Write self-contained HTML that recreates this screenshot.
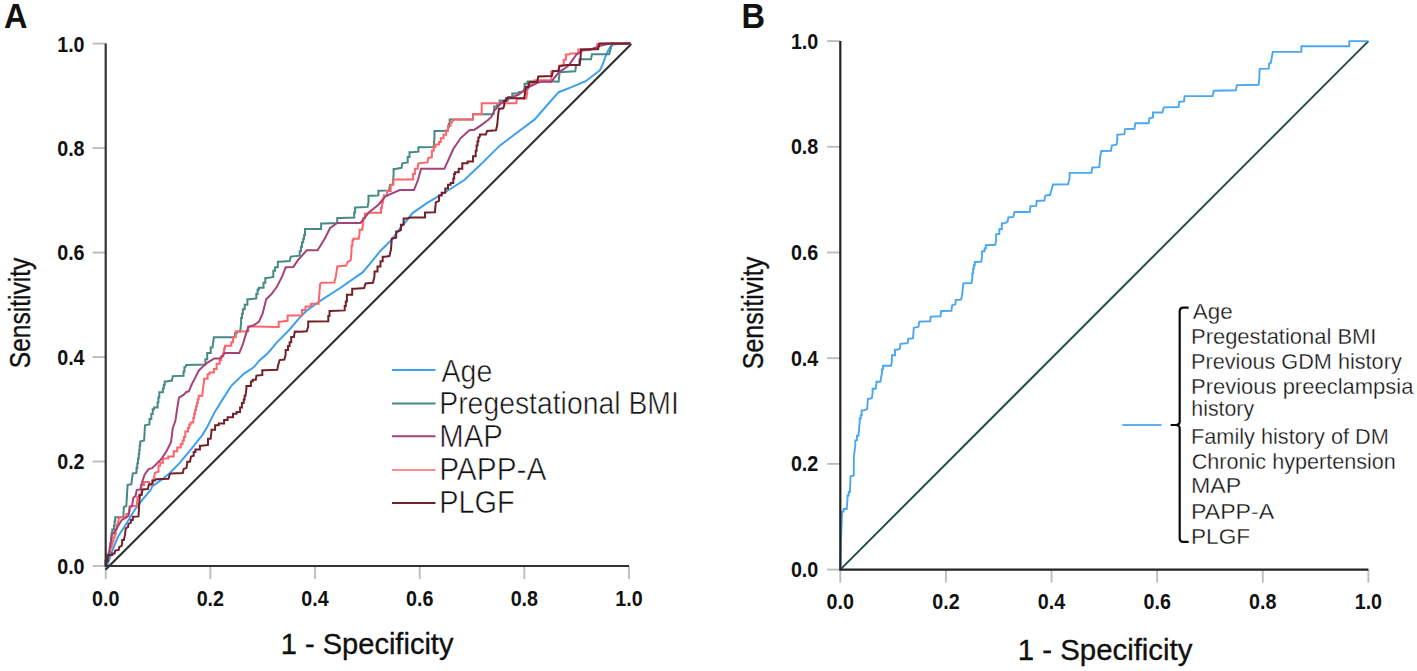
<!DOCTYPE html>
<html><head><meta charset="utf-8"><title>ROC curves</title>
<style>html,body{margin:0;padding:0;background:#fff;}body{width:1417px;height:671px;overflow:hidden;font-family:"Liberation Sans",sans-serif;}svg{display:block;}</style>
</head><body>
<svg width="1417" height="671" viewBox="0 0 1417 671" font-family="Liberation Sans, sans-serif" fill="#111111"><rect x="0" y="0" width="1417" height="671" fill="#ffffff"/>
<text x="4.00" y="27.60" font-size="35.00" font-weight="bold" text-anchor="start" textLength="23.50" lengthAdjust="spacingAndGlyphs" >A</text>
<text x="741.60" y="27.50" font-size="35.00" font-weight="bold" text-anchor="start" textLength="23.50" lengthAdjust="spacingAndGlyphs" >B</text>
<line x1="92.6" y1="566.00" x2="105.70" y2="566.00" stroke="#bdbdbd" stroke-width="1.9"/>
<line x1="105.70" y1="566.00" x2="105.70" y2="579" stroke="#bdbdbd" stroke-width="1.9"/>
<text x="84.60" y="573.90" font-size="22.00" font-weight="bold" text-anchor="end" textLength="27.40" lengthAdjust="spacingAndGlyphs" >0.0</text>
<text x="105.70" y="605.70" font-size="22.00" font-weight="bold" text-anchor="middle" textLength="27.40" lengthAdjust="spacingAndGlyphs" >0.0</text>
<line x1="92.6" y1="461.52" x2="105.70" y2="461.52" stroke="#bdbdbd" stroke-width="1.9"/>
<line x1="210.36" y1="566.00" x2="210.36" y2="579" stroke="#bdbdbd" stroke-width="1.9"/>
<text x="84.60" y="469.42" font-size="22.00" font-weight="bold" text-anchor="end" textLength="27.40" lengthAdjust="spacingAndGlyphs" >0.2</text>
<text x="210.36" y="605.70" font-size="22.00" font-weight="bold" text-anchor="middle" textLength="27.40" lengthAdjust="spacingAndGlyphs" >0.2</text>
<line x1="92.6" y1="357.04" x2="105.70" y2="357.04" stroke="#bdbdbd" stroke-width="1.9"/>
<line x1="315.02" y1="566.00" x2="315.02" y2="579" stroke="#bdbdbd" stroke-width="1.9"/>
<text x="84.60" y="364.94" font-size="22.00" font-weight="bold" text-anchor="end" textLength="27.40" lengthAdjust="spacingAndGlyphs" >0.4</text>
<text x="315.02" y="605.70" font-size="22.00" font-weight="bold" text-anchor="middle" textLength="27.40" lengthAdjust="spacingAndGlyphs" >0.4</text>
<line x1="92.6" y1="252.56" x2="105.70" y2="252.56" stroke="#bdbdbd" stroke-width="1.9"/>
<line x1="419.68" y1="566.00" x2="419.68" y2="579" stroke="#bdbdbd" stroke-width="1.9"/>
<text x="84.60" y="260.46" font-size="22.00" font-weight="bold" text-anchor="end" textLength="27.40" lengthAdjust="spacingAndGlyphs" >0.6</text>
<text x="419.68" y="605.70" font-size="22.00" font-weight="bold" text-anchor="middle" textLength="27.40" lengthAdjust="spacingAndGlyphs" >0.6</text>
<line x1="92.6" y1="148.08" x2="105.70" y2="148.08" stroke="#bdbdbd" stroke-width="1.9"/>
<line x1="524.34" y1="566.00" x2="524.34" y2="579" stroke="#bdbdbd" stroke-width="1.9"/>
<text x="84.60" y="155.98" font-size="22.00" font-weight="bold" text-anchor="end" textLength="27.40" lengthAdjust="spacingAndGlyphs" >0.8</text>
<text x="524.34" y="605.70" font-size="22.00" font-weight="bold" text-anchor="middle" textLength="27.40" lengthAdjust="spacingAndGlyphs" >0.8</text>
<line x1="92.6" y1="43.60" x2="105.70" y2="43.60" stroke="#bdbdbd" stroke-width="1.9"/>
<line x1="629.00" y1="566.00" x2="629.00" y2="579" stroke="#bdbdbd" stroke-width="1.9"/>
<text x="84.60" y="51.50" font-size="22.00" font-weight="bold" text-anchor="end" textLength="27.40" lengthAdjust="spacingAndGlyphs" >1.0</text>
<text x="629.00" y="605.70" font-size="22.00" font-weight="bold" text-anchor="middle" textLength="27.40" lengthAdjust="spacingAndGlyphs" >1.0</text>
<line x1="827.1" y1="569.60" x2="840.30" y2="569.60" stroke="#bdbdbd" stroke-width="1.9"/>
<line x1="840.30" y1="569.60" x2="840.30" y2="582.6" stroke="#bdbdbd" stroke-width="1.9"/>
<text x="818.30" y="577.10" font-size="22.00" font-weight="bold" text-anchor="end" textLength="27.40" lengthAdjust="spacingAndGlyphs" >0.0</text>
<text x="840.30" y="608.90" font-size="22.00" font-weight="bold" text-anchor="middle" textLength="27.40" lengthAdjust="spacingAndGlyphs" >0.0</text>
<line x1="827.1" y1="463.90" x2="840.30" y2="463.90" stroke="#bdbdbd" stroke-width="1.9"/>
<line x1="945.92" y1="569.60" x2="945.92" y2="582.6" stroke="#bdbdbd" stroke-width="1.9"/>
<text x="818.30" y="471.40" font-size="22.00" font-weight="bold" text-anchor="end" textLength="27.40" lengthAdjust="spacingAndGlyphs" >0.2</text>
<text x="945.92" y="608.90" font-size="22.00" font-weight="bold" text-anchor="middle" textLength="27.40" lengthAdjust="spacingAndGlyphs" >0.2</text>
<line x1="827.1" y1="358.20" x2="840.30" y2="358.20" stroke="#bdbdbd" stroke-width="1.9"/>
<line x1="1051.54" y1="569.60" x2="1051.54" y2="582.6" stroke="#bdbdbd" stroke-width="1.9"/>
<text x="818.30" y="365.70" font-size="22.00" font-weight="bold" text-anchor="end" textLength="27.40" lengthAdjust="spacingAndGlyphs" >0.4</text>
<text x="1051.54" y="608.90" font-size="22.00" font-weight="bold" text-anchor="middle" textLength="27.40" lengthAdjust="spacingAndGlyphs" >0.4</text>
<line x1="827.1" y1="252.50" x2="840.30" y2="252.50" stroke="#bdbdbd" stroke-width="1.9"/>
<line x1="1157.16" y1="569.60" x2="1157.16" y2="582.6" stroke="#bdbdbd" stroke-width="1.9"/>
<text x="818.30" y="260.00" font-size="22.00" font-weight="bold" text-anchor="end" textLength="27.40" lengthAdjust="spacingAndGlyphs" >0.6</text>
<text x="1157.16" y="608.90" font-size="22.00" font-weight="bold" text-anchor="middle" textLength="27.40" lengthAdjust="spacingAndGlyphs" >0.6</text>
<line x1="827.1" y1="146.80" x2="840.30" y2="146.80" stroke="#bdbdbd" stroke-width="1.9"/>
<line x1="1262.78" y1="569.60" x2="1262.78" y2="582.6" stroke="#bdbdbd" stroke-width="1.9"/>
<text x="818.30" y="154.30" font-size="22.00" font-weight="bold" text-anchor="end" textLength="27.40" lengthAdjust="spacingAndGlyphs" >0.8</text>
<text x="1262.78" y="608.90" font-size="22.00" font-weight="bold" text-anchor="middle" textLength="27.40" lengthAdjust="spacingAndGlyphs" >0.8</text>
<line x1="827.1" y1="41.10" x2="840.30" y2="41.10" stroke="#bdbdbd" stroke-width="1.9"/>
<line x1="1368.40" y1="569.60" x2="1368.40" y2="582.6" stroke="#bdbdbd" stroke-width="1.9"/>
<text x="818.30" y="48.60" font-size="22.00" font-weight="bold" text-anchor="end" textLength="27.40" lengthAdjust="spacingAndGlyphs" >1.0</text>
<text x="1368.40" y="608.90" font-size="22.00" font-weight="bold" text-anchor="middle" textLength="27.40" lengthAdjust="spacingAndGlyphs" >1.0</text>
<text x="280.79" y="653.70" font-size="29.60" font-weight="normal" textLength="172.67" lengthAdjust="spacingAndGlyphs" stroke="#111" stroke-width="0.35">1 - Specificity</text>
<text x="1017.76" y="659.60" font-size="30.20" font-weight="normal" textLength="174.70" lengthAdjust="spacingAndGlyphs" stroke="#111" stroke-width="0.35">1 - Specificity</text>
<text x="-1.12" y="0" font-size="29.60" font-weight="normal" textLength="110.56" lengthAdjust="spacingAndGlyphs" transform="translate(30.20,367.10) rotate(-90)" stroke="#111" stroke-width="0.35">Sensitivity</text>
<text x="-1.13" y="0" font-size="30.20" font-weight="normal" textLength="112.48" lengthAdjust="spacingAndGlyphs" transform="translate(763.00,368.10) rotate(-90)" stroke="#111" stroke-width="0.35">Sensitivity</text>
<line x1="105.5" y1="569.8" x2="631.3" y2="44.0" stroke="#333333" stroke-width="2.2"/>
<polyline points="105.7,565.5 107.7,564.4 112.3,550.5 118.1,536.5 126.3,523.7 135.6,508.6 143.7,498.1 150.7,490.0 152.2,486.4 162.6,478.9 170.1,472.7 179.0,463.7 188.0,453.0 195.1,444.1 202.3,435.1 207.6,426.2 214.8,411.9 223.7,397.6 231.3,385.8 243.8,373.8 253.7,367.3 259.3,360.7 268.0,353.0 276.9,342.3 289.4,329.7 300.1,317.2 307.3,310.1 319.4,301.4 340.2,288.0 362.6,272.4 371.5,261.9 380.1,251.2 390.9,240.5 400.0,228.3 405.4,222.0 412.5,213.1 426.8,203.2 444.7,192.5 464.4,180.0 480.1,165.1 492.7,152.6 500.0,145.4 513.2,135.5 534.7,119.4 542.9,110.0 558.6,92.2 572.2,86.9 585.7,81.2 600.0,70.2 602.9,63.8 606.5,54.0 610.1,46.8 613.7,44.2 630.5,43.6" fill="none" stroke="#3ea0ec" stroke-width="2.0" stroke-linejoin="miter" stroke-linecap="butt" />
<polyline points="105.7,565.5 106.5,564.4 106.5,560.5 107.7,560.5 107.7,556.7 108.8,556.7 108.8,552.8 110.0,552.8 110.0,547.8 110.6,547.8 110.6,542.9 111.2,542.9 111.2,538.0 111.7,538.0 111.7,533.0 112.3,533.0 112.3,529.5 114.0,529.5 114.0,525.4 114.6,525.4 114.6,521.4 115.2,521.4 115.2,517.3 115.8,517.3 123.3,517.0 123.9,506.9 126.3,506.3 127.6,484.9 131.3,484.2 132.8,473.5 136.5,473.0 136.5,468.1 137.3,468.1 137.3,463.3 138.0,463.3 138.0,458.4 138.8,458.4 138.8,454.1 139.2,454.1 139.2,449.9 139.7,449.9 139.7,445.6 140.2,445.6 140.2,441.4 140.6,441.4 144.1,440.5 145.0,425.3 149.5,424.4 149.5,419.0 151.3,419.0 151.3,414.1 152.7,414.1 152.7,409.2 154.0,409.2 154.0,407.4 157.6,407.4 157.6,402.5 158.4,402.5 158.4,397.6 159.3,397.6 159.3,392.2 162.9,392.2 162.9,388.6 163.8,388.6 163.8,385.0 164.7,385.0 164.7,381.5 166.5,381.5 171.9,380.6 172.8,376.1 183.5,375.7 183.5,371.4 184.4,371.4 184.4,367.2 185.3,367.2 186.2,365.0 205.4,364.5 205.4,359.3 207.2,359.3 207.2,353.0 210.7,353.0 210.7,347.6 212.5,347.6 213.9,337.3 234.9,337.3 234.9,333.3 236.7,333.3 236.7,331.5 240.2,331.5 241.1,322.6 241.1,318.1 242.0,318.1 242.0,313.7 242.9,313.7 242.9,309.2 244.7,309.2 244.7,304.7 247.4,304.7 247.4,299.3 249.2,299.3 256.3,298.4 256.3,293.9 257.6,293.9 257.6,289.5 259.0,289.5 259.0,287.7 263.5,287.7 263.5,282.8 265.3,282.8 265.3,277.9 267.1,277.9 273.3,277.0 273.3,270.7 275.1,270.7 275.1,267.2 277.8,267.2 277.8,261.8 279.6,261.8 289.8,261.0 290.7,256.6 299.7,255.7 299.7,251.2 300.9,251.2 300.9,246.8 302.0,246.8 302.0,242.3 303.2,242.3 303.2,238.7 304.1,238.7 304.1,235.1 305.0,235.1 305.0,228.9 307.7,228.9 321.1,228.9 321.1,223.5 323.8,223.5 337.2,223.0 337.2,218.1 340.8,218.1 354.2,217.6 354.2,212.5 355.1,212.5 355.1,207.4 356.0,207.4 367.6,206.9 368.5,202.0 368.5,195.8 373.0,195.8 378.4,195.4 378.4,190.8 380.1,190.8 389.1,190.4 390.0,185.0 392.7,184.7 393.6,174.3 393.6,168.9 395.3,168.9 401.5,167.8 402.4,163.3 407.7,162.4 407.7,157.1 409.5,157.1 409.5,152.2 412.2,152.2 418.4,151.7 418.4,147.2 420.2,147.2 433.7,146.9 434.5,136.5 434.5,131.1 436.3,131.1 448.0,130.8 448.0,127.4 448.9,127.4 448.9,124.0 449.7,124.0 449.7,119.5 451.5,119.5 473.0,119.5 473.0,114.2 493.6,114.2 494.2,108.9 494.2,106.5 497.2,106.5 497.2,104.1 499.6,104.1 499.6,100.6 507.9,100.6 507.9,97.0 512.3,97.0 512.3,93.5 516.8,93.5 518.7,92.2 523.4,91.6 524.6,87.4 524.6,83.8 527.0,83.8 527.6,81.5 538.3,81.2 555.5,81.5 558.6,81.7 559.6,72.3 575.3,71.3 575.8,67.1 575.8,65.0 579.5,65.0 579.5,59.3 581.5,59.3 591.0,59.3 592.0,54.3 609.2,54.3 610.1,50.9 611.4,45.9 611.4,44.2 613.7,44.2 630.5,43.6" fill="none" stroke="#458a85" stroke-width="2.0" stroke-linejoin="miter" stroke-linecap="butt" />
<polyline points="105.7,565.5 105.7,560.3 107.2,560.3 107.2,555.1 108.8,555.1 110.0,550.5 110.0,548.1 111.7,548.1 111.7,544.5 112.6,544.5 112.6,541.0 113.5,541.0 113.5,537.6 114.7,537.6 114.7,534.2 115.8,534.2 115.8,529.5 116.7,529.5 116.7,524.9 117.5,524.9 118.7,519.1 119.9,517.3 126.3,517.3 126.3,514.0 128.5,514.0 129.7,510.9 129.7,506.3 132.7,506.3 136.7,505.7 137.3,500.5 137.3,497.0 139.0,497.0 139.0,494.7 141.4,494.7 141.4,490.0 141.4,485.0 144.0,485.0 144.0,482.0 149.0,482.0 149.0,484.9 152.2,484.9 153.6,478.9 154.0,478.0 154.9,472.7 158.5,471.8 158.5,465.5 160.2,465.5 160.2,462.8 162.9,462.8 162.9,458.4 168.3,458.4 168.3,456.6 173.7,456.6 173.7,451.2 177.2,451.2 177.2,447.6 180.8,447.6 180.8,444.1 182.6,444.1 182.6,440.5 183.9,440.5 183.9,436.9 185.3,436.9 185.3,431.5 188.0,431.5 188.0,427.9 189.3,427.9 189.3,424.4 190.6,424.4 190.6,422.6 193.3,422.6 193.3,418.1 194.2,418.1 194.2,413.7 195.1,413.7 195.1,410.1 196.0,410.1 196.0,406.5 196.9,406.5 196.9,402.9 197.8,402.9 197.8,399.3 198.7,399.3 198.7,395.8 202.3,395.8 203.2,386.8 204.1,380.6 204.1,378.8 207.6,378.8 207.6,374.3 209.4,374.3 209.4,372.5 213.9,372.5 213.9,368.9 216.6,368.9 216.6,363.7 219.7,363.7 219.7,360.1 221.4,360.1 221.4,356.6 223.2,356.6 223.2,352.6 224.1,352.6 224.1,348.5 225.0,348.5 225.0,345.8 231.3,345.8 231.3,342.3 233.1,342.3 233.1,336.9 235.8,336.9 235.8,331.5 237.6,331.5 248.3,331.2 248.3,326.5 250.1,326.5 278.7,327.1 278.7,321.7 280.5,321.7 287.6,320.8 287.6,315.4 289.4,315.4 301.9,315.4 301.9,310.1 305.5,310.1 305.5,306.5 310.9,306.5 310.9,303.8 314.5,303.8 318.6,303.7 320.1,284.3 321.6,282.8 334.3,282.5 335.8,276.8 337.3,266.4 346.2,265.6 347.7,261.9 350.7,260.4 351.5,251.2 351.5,245.8 352.4,245.8 352.4,240.5 353.3,240.5 353.3,238.7 358.7,238.7 359.6,233.3 359.6,229.7 362.3,229.7 363.2,222.6 363.2,218.1 364.9,218.1 364.9,213.7 366.7,213.7 368.5,212.8 381.0,212.8 381.0,207.9 381.9,207.9 381.9,202.9 382.8,202.9 383.7,197.6 383.7,195.5 387.2,195.5 387.2,191.0 390.7,191.0 390.7,184.8 393.4,184.8 393.4,179.4 395.2,179.4 413.1,179.4 413.1,174.1 414.9,174.1 414.9,168.7 417.6,168.7 418.4,163.3 427.4,162.4 428.3,158.0 431.9,157.1 431.9,150.8 433.7,150.8 433.7,147.2 435.4,147.2 435.4,144.5 439.0,144.5 439.0,141.9 440.8,141.9 440.8,138.3 443.5,138.3 443.5,134.7 446.2,134.7 446.2,130.2 448.0,130.2 448.0,125.8 450.6,125.8 450.6,122.2 452.4,122.2 453.3,119.5 472.7,119.6 473.3,114.2 481.7,114.2 481.7,103.2 516.3,103.2 516.8,98.5 526.3,98.4 527.3,92.2 527.3,88.5 528.3,88.5 528.3,84.8 529.4,84.8 532.5,84.8 532.5,81.9 534.7,81.9 534.7,80.2 551.3,80.2 551.3,71.3 558.6,70.8 559.1,65.6 563.8,65.0 563.8,59.8 565.9,59.8 565.9,54.6 569.0,54.6 570.1,53.6 578.4,53.6 578.4,49.4 580.5,49.4 597.3,49.3 597.3,44.0 599.1,44.0 610.0,43.6 630.5,43.6" fill="none" stroke="#ff6469" stroke-width="2.0" stroke-linejoin="miter" stroke-linecap="butt" />
<polyline points="105.7,565.5 107.7,559.8 111.1,540.0 111.7,534.2 114.0,533.0 118.1,526.0 121.6,520.2 126.3,517.3 128.6,515.6 129.7,507.4 132.1,505.7 133.2,498.1 135.6,495.8 136.7,490.0 140.2,489.4 142.5,481.0 144.7,474.5 148.6,469.1 152.2,468.2 155.8,464.6 161.1,459.3 166.5,451.2 171.0,442.3 172.8,428.0 175.4,420.8 177.2,408.3 179.0,397.6 183.5,394.9 186.2,392.2 188.9,391.3 191.5,385.0 195.1,377.9 198.7,370.7 204.1,365.4 207.2,362.8 214.3,358.4 219.7,358.4 225.0,353.0 239.3,353.0 242.9,344.1 245.6,335.1 248.3,327.1 253.7,325.3 259.0,321.7 262.6,313.7 266.2,299.3 271.5,294.0 276.9,286.8 282.3,276.1 285.8,267.2 293.4,266.9 297.9,260.1 306.8,250.3 317.6,250.3 324.7,238.7 330.1,228.0 337.2,223.0 360.5,223.0 369.4,211.9 378.4,204.7 385.4,196.4 399.7,190.1 414.0,190.1 417.9,180.0 421.1,168.7 444.4,168.7 453.3,149.0 460.5,138.3 469.4,130.2 474.5,129.7 480.5,125.6 487.7,120.2 491.2,117.2 494.8,110.1 500.8,103.5 507.9,98.2 512.7,97.0 518.7,94.6 523.4,91.0 528.2,87.4 533.0,85.0 537.7,82.7 541.3,81.5 551.3,81.7 559.6,71.3 563.8,69.2 569.0,65.0 574.2,57.7 576.3,54.6 579.5,52.5 582.6,50.4 590.1,49.7 599.1,46.1 610.0,43.6 630.5,43.6" fill="none" stroke="#a6427a" stroke-width="2.0" stroke-linejoin="miter" stroke-linecap="butt" />
<polyline points="105.7,565.5 105.7,560.9 107.7,560.9 107.7,555.1 112.3,555.1 112.3,553.4 114.6,553.4 115.2,550.5 118.7,549.9 119.3,547.0 121.6,545.8 122.2,543.5 122.2,540.0 123.9,540.0 125.1,534.2 125.7,528.4 128.0,527.2 128.6,523.7 130.9,522.6 130.9,520.0 132.7,520.0 133.1,516.8 138.5,516.4 138.9,510.1 139.4,501.1 139.8,496.7 139.8,494.9 141.6,494.9 142.5,489.5 147.9,489.1 148.8,484.6 152.4,483.7 152.4,480.6 155.0,480.6 155.9,479.2 168.5,478.8 169.8,474.3 171.1,473.4 182.8,473.0 183.7,468.9 186.4,468.0 187.2,463.6 187.2,461.8 190.0,461.8 191.0,456.6 193.7,455.7 193.7,452.1 195.4,452.1 195.4,449.4 199.9,449.4 199.9,445.8 201.7,445.8 208.0,444.9 208.0,438.7 210.6,438.7 211.5,431.5 211.5,429.7 215.1,429.7 215.1,425.3 218.7,425.3 218.7,423.5 224.1,423.5 224.1,419.9 227.6,419.9 227.6,417.2 233.0,417.2 233.0,413.7 236.6,413.7 236.6,411.9 240.1,411.9 240.1,407.4 241.9,407.4 241.9,402.9 243.7,402.9 243.7,399.4 244.6,399.4 244.6,395.8 245.5,395.8 246.4,388.6 246.4,385.9 250.9,385.9 250.9,381.5 252.7,381.5 252.7,379.8 255.8,379.8 256.4,375.6 262.3,375.0 262.3,370.3 264.1,370.3 277.2,369.7 278.4,364.3 279.6,360.1 284.4,359.5 285.6,354.8 285.6,350.0 288.0,350.0 288.0,346.1 289.6,346.1 289.6,342.3 291.2,342.3 291.2,336.9 293.9,336.9 294.8,331.5 300.0,331.7 306.7,331.2 308.2,326.8 308.2,321.5 311.2,321.5 328.3,321.2 328.3,316.1 329.5,316.1 329.5,311.1 330.6,311.1 344.7,310.4 344.7,305.9 345.8,305.9 345.8,301.4 346.9,301.4 346.9,294.7 352.2,294.7 352.2,288.7 355.1,288.7 364.1,288.0 365.6,283.5 373.0,282.8 374.5,276.1 374.5,271.6 377.5,271.6 377.5,266.4 380.5,266.4 380.5,261.2 382.7,261.2 382.7,256.7 384.9,256.7 389.4,256.0 390.9,250.0 391.8,238.7 396.2,237.8 396.2,231.5 398.0,231.5 400.9,230.1 400.9,224.7 403.6,224.7 403.6,218.5 407.2,218.5 410.7,217.6 425.0,217.6 425.0,212.5 426.8,212.5 434.9,212.2 435.8,202.4 439.0,200.9 439.0,195.5 441.7,195.5 441.7,192.8 445.3,192.8 445.3,188.4 448.0,188.4 448.0,184.8 450.6,184.8 450.6,183.0 453.3,183.0 453.3,178.6 454.2,178.6 454.2,174.1 455.1,174.1 455.1,172.3 458.7,172.3 458.7,168.7 462.3,168.7 462.3,163.3 467.6,163.3 467.6,161.5 473.0,161.5 473.0,156.2 475.7,156.2 475.7,150.8 476.6,150.8 476.6,145.4 477.5,145.4 477.5,141.4 478.4,141.4 478.4,137.4 479.3,137.4 479.9,136.3 479.9,134.5 485.9,134.5 487.1,130.9 496.0,130.3 497.2,125.0 498.4,112.5 499.0,108.9 503.2,108.3 504.3,105.3 504.3,101.1 506.1,101.1 506.1,98.2 509.1,98.2 523.4,98.2 524.2,98.4 525.7,89.0 525.7,86.9 528.3,86.9 529.4,82.2 537.2,81.7 538.3,76.5 551.8,76.0 552.9,71.3 558.6,70.8 559.6,66.1 566.9,65.0 579.5,65.0 580.5,58.8 581.0,49.4 598.2,48.9 599.3,43.6 630.5,43.6" fill="none" stroke="#72202a" stroke-width="2.0" stroke-linejoin="miter" stroke-linecap="butt" />
<polyline points="105.7,43.6 105.7,566.0 629.0,566.0" fill="none" stroke="#333333" stroke-width="2.2"/>
<line x1="840.3" y1="569.6" x2="1368.4" y2="41.1" stroke="#254f4c" stroke-width="2.0"/>
<polyline points="840.5,569.5 841.0,540.0 842.0,515.0 842.0,511.5 843.6,511.5 843.6,509.0 846.7,509.0 847.5,499.0 847.5,495.5 848.7,495.5 848.7,492.0 849.9,492.0 850.6,476.3 853.8,475.5 853.8,457.6 855.3,445.1 855.3,440.4 856.9,440.4 856.9,435.7 858.5,435.7 859.7,421.6 859.7,418.5 860.7,418.5 860.7,415.4 861.6,415.4 861.6,410.4 864.0,410.4 867.1,409.1 867.9,399.0 871.8,398.2 872.6,393.5 872.6,388.8 875.7,388.8 876.5,383.3 876.5,381.7 880.4,381.7 881.2,377.0 882.0,373.0 882.0,369.4 883.0,369.4 883.0,365.8 884.1,365.8 891.1,365.8 891.9,360.8 891.9,355.3 895.0,355.3 895.0,349.8 896.6,349.8 899.7,349.0 900.5,343.9 907.6,343.2 908.3,338.9 913.0,338.1 913.8,327.9 918.5,326.7 919.3,321.6 930.2,321.3 930.7,316.6 940.4,316.3 941.2,311.0 951.4,310.7 952.2,305.2 955.3,304.4 955.8,300.0 961.1,299.7 962.3,293.5 963.3,283.3 971.5,283.0 972.3,278.4 972.3,273.4 973.1,273.4 973.1,268.5 973.9,268.5 973.9,265.2 974.8,265.2 974.8,262.0 975.6,262.0 981.3,261.6 982.1,256.2 982.1,251.3 984.6,251.3 984.6,248.2 985.8,248.2 985.8,245.2 987.0,245.2 995.2,244.8 996.1,239.8 996.1,234.1 999.3,234.1 999.3,229.2 1001.8,229.2 1001.8,223.4 1004.3,223.4 1007.5,221.8 1008.4,217.4 1013.3,216.9 1014.6,212.0 1029.7,212.0 1030.5,206.2 1036.2,205.9 1036.7,201.0 1044.4,200.5 1045.2,195.6 1050.2,194.8 1051.5,189.8 1053.0,184.5 1068.0,184.4 1069.6,178.4 1069.6,172.9 1072.7,172.9 1091.5,172.9 1092.3,167.5 1099.3,167.2 1100.1,157.3 1101.3,151.0 1111.0,150.7 1111.8,145.6 1116.5,144.8 1117.3,140.1 1117.3,134.6 1119.6,134.6 1124.3,134.1 1125.1,129.1 1134.5,128.8 1135.3,123.2 1148.6,123.2 1149.4,118.2 1153.0,117.4 1153.0,112.5 1162.5,112.5 1163.7,107.4 1178.6,107.0 1179.2,101.8 1184.0,101.4 1184.6,96.1 1212.6,96.1 1213.8,90.7 1235.9,90.3 1236.8,85.1 1258.6,84.7 1259.2,79.4 1259.7,68.9 1268.7,68.6 1269.3,63.3 1270.8,62.9 1271.5,58.9 1272.8,51.9 1301.4,51.9 1301.4,46.2 1349.3,46.2 1349.3,41.1 1368.4,41.1" fill="none" stroke="#4aa7f0" stroke-width="1.9" stroke-linejoin="miter" stroke-linecap="butt" />
<polyline points="840.3,41.1 840.3,569.6 1368.4,569.6" fill="none" stroke="#222222" stroke-width="2.2"/>
<line x1="392" y1="370.1" x2="435.5" y2="370.1" stroke="#3ea0ec" stroke-width="2"/>
<text x="441.54" y="381.60" font-size="30.60" font-weight="normal" textLength="50.72" lengthAdjust="spacingAndGlyphs" stroke="#ffffff" stroke-width="0.55">Age</text>
<line x1="392" y1="403.6" x2="435.5" y2="403.6" stroke="#458a85" stroke-width="2"/>
<text x="439.27" y="414.40" font-size="30.60" font-weight="normal" textLength="239.54" lengthAdjust="spacingAndGlyphs" stroke="#ffffff" stroke-width="0.55">Pregestational BMI</text>
<line x1="392" y1="436.3" x2="435.5" y2="436.3" stroke="#a6427a" stroke-width="2"/>
<text x="439.19" y="446.80" font-size="30.60" font-weight="normal" textLength="63.66" lengthAdjust="spacingAndGlyphs" stroke="#ffffff" stroke-width="0.55">MAP</text>
<line x1="392" y1="469.9" x2="435.5" y2="469.9" stroke="#ff8c90" stroke-width="2"/>
<text x="439.20" y="480.40" font-size="30.60" font-weight="normal" textLength="107.15" lengthAdjust="spacingAndGlyphs" stroke="#ffffff" stroke-width="0.55">PAPP-A</text>
<line x1="392" y1="502.9" x2="435.5" y2="502.9" stroke="#72202a" stroke-width="2"/>
<text x="439.23" y="513.20" font-size="30.60" font-weight="normal" textLength="75.43" lengthAdjust="spacingAndGlyphs" stroke="#ffffff" stroke-width="0.55">PLGF</text>
<line x1="1122.3" y1="425" x2="1161.5" y2="425" stroke="#5ab2f0" stroke-width="2.2"/>
<path d="M1188.6,307.6 L1183.2,307.6 Q1179.7,307.6 1179.7,311.2 L1179.7,421.5 Q1179.7,425 1175.5,425 L1170.7,425 M1175.5,425 Q1179.7,425 1179.7,428.5 L1179.7,538.2 Q1179.7,541.8 1183.2,541.8 L1188.6,541.8" fill="none" stroke="#0a0a0a" stroke-width="2.2"/>
<text x="1192.76" y="318.80" font-size="22.00" font-weight="normal" textLength="39.84" lengthAdjust="spacingAndGlyphs" stroke="#ffffff" stroke-width="0.3">Age</text>
<text x="1191.00" y="343.80" font-size="22.00" font-weight="normal" textLength="185.43" lengthAdjust="spacingAndGlyphs" stroke="#ffffff" stroke-width="0.3">Pregestational BMI</text>
<text x="1191.02" y="369.40" font-size="22.00" font-weight="normal" textLength="210.72" lengthAdjust="spacingAndGlyphs" stroke="#ffffff" stroke-width="0.3">Previous GDM history</text>
<text x="1191.00" y="394.10" font-size="22.00" font-weight="normal" textLength="222.40" lengthAdjust="spacingAndGlyphs" stroke="#ffffff" stroke-width="0.3">Previous preeclampsia</text>
<text x="1191.32" y="415.60" font-size="22.00" font-weight="normal" textLength="62.82" lengthAdjust="spacingAndGlyphs" stroke="#ffffff" stroke-width="0.3">history</text>
<text x="1191.02" y="444.00" font-size="22.00" font-weight="normal" textLength="197.76" lengthAdjust="spacingAndGlyphs" stroke="#ffffff" stroke-width="0.3">Family history of DM</text>
<text x="1191.70" y="468.80" font-size="22.00" font-weight="normal" textLength="204.20" lengthAdjust="spacingAndGlyphs" stroke="#ffffff" stroke-width="0.3">Chronic hypertension</text>
<text x="1190.90" y="493.30" font-size="22.00" font-weight="normal" textLength="50.22" lengthAdjust="spacingAndGlyphs" stroke="#ffffff" stroke-width="0.3">MAP</text>
<text x="1190.94" y="519.30" font-size="22.00" font-weight="normal" textLength="83.31" lengthAdjust="spacingAndGlyphs" stroke="#ffffff" stroke-width="0.3">PAPP-A</text>
<text x="1190.94" y="543.70" font-size="22.00" font-weight="normal" textLength="59.17" lengthAdjust="spacingAndGlyphs" stroke="#ffffff" stroke-width="0.3">PLGF</text></svg>
</body></html>
